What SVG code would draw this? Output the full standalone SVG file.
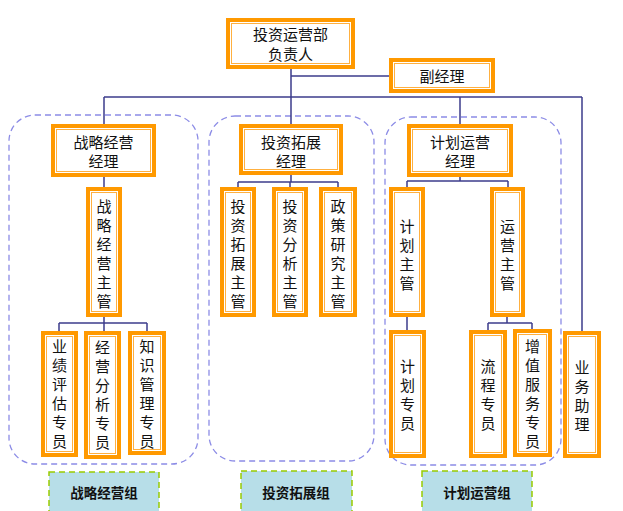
<svg xmlns="http://www.w3.org/2000/svg" width="623" height="511" viewBox="0 0 623 511">
<style>
.o{fill:#fff;stroke:#FF9900;stroke-width:4}
.i{fill:none;stroke:#FFB040;stroke-width:1}
.t{font-family:"Noto Sans CJK SC","Noto Sans CJK JP",sans-serif;font-size:15px;fill:#111;text-anchor:middle;dominant-baseline:central}
.grp{fill:none;stroke:#8C8CE6;stroke-width:1.3;stroke-dasharray:6 4}
.lb{fill:#B7DEE8;stroke:#99CC00;stroke-width:1.5;stroke-dasharray:6 4}
.lt{font-family:"Noto Sans CJK SC","Noto Sans CJK JP",sans-serif;font-size:13.5px;font-weight:bold;fill:#111;text-anchor:middle;dominant-baseline:central}
.c{fill:none;stroke:#3C3C8C;stroke-width:1.5}
</style>
<rect width="623" height="511" fill="#fff"/>
<g id="groups">
<rect class="grp" x="9" y="115" width="189" height="349" rx="26"/>
<rect class="grp" x="209" y="116" width="165" height="345" rx="26"/>
<rect class="grp" x="385" y="117" width="176" height="348" rx="26"/>
</g>
<g id="connectors">
<path class="c" d="M291 69V97M291 76H389M104 97H582M104 97V124M291 97V124M460 97V124M582 97V331"/>
<path class="c" d="M104 177V187M104 317V323M59 323H147M59 323V331M104 323V331M147 323V331"/>
<path class="c" d="M291 174V182M238 182H338M238 182V187M290 182V187M338 182V187"/>
<path class="c" d="M460 177V181M407 181H508M407 181V187M508 181V187M407 317V330M507 317V323M488 323H532M488 323V330M532 323V330"/>
</g>
<g id="n_head">
<rect class="o" x="228" y="20" width="125" height="47"/><rect class="i" x="231.5" y="23.5" width="118" height="40"/>
<text class="t" x="290.5" y="33">投资运营部</text><text class="t" x="290.5" y="53">负责人</text>
</g>
<g id="n_vice">
<rect class="o" x="391" y="60" width="102" height="31"/><rect class="i" x="394.5" y="63.5" width="95" height="24"/>
<text class="t" x="442" y="75.5">副经理</text>
</g>
<g id="n_m1">
<rect class="o" x="53" y="126" width="101" height="49"/><rect class="i" x="56.5" y="129.5" width="94" height="42"/>
<text class="t" x="103.5" y="141">战略经营</text><text class="t" x="103.5" y="160">经理</text>
</g>
<g id="n_m2">
<rect class="o" x="241" y="126" width="100" height="47"/><rect class="i" x="244.5" y="129.5" width="93" height="40"/>
<text class="t" x="291" y="141">投资拓展</text><text class="t" x="291" y="160">经理</text>
</g>
<g id="n_m3">
<rect class="o" x="409" y="126" width="102" height="49"/><rect class="i" x="412.5" y="129.5" width="95" height="42"/>
<text class="t" x="460" y="141">计划运营</text><text class="t" x="460" y="160">经理</text>
</g>
<g id="n_zlzg">
<rect class="o" x="88" y="189" width="32" height="126"/><rect class="i" x="91.5" y="192.5" width="25" height="119"/>
<text class="t"><tspan x="104" y="205">战</tspan><tspan x="104" y="224">略</tspan><tspan x="104" y="243">经</tspan><tspan x="104" y="262">营</tspan><tspan x="104" y="281">主</tspan><tspan x="104" y="300">管</tspan></text>
</g>
<g id="n_yjpg">
<rect class="o" x="43" y="333" width="33" height="122"/><rect class="i" x="46.5" y="336.5" width="26" height="115"/>
<text class="t"><tspan x="59.5" y="345">业</tspan><tspan x="59.5" y="364">绩</tspan><tspan x="59.5" y="383">评</tspan><tspan x="59.5" y="402">估</tspan><tspan x="59.5" y="421">专</tspan><tspan x="59.5" y="440">员</tspan></text>
</g>
<g id="n_jyfx">
<rect class="o" x="86" y="333" width="33" height="124"/><rect class="i" x="89.5" y="336.5" width="26" height="117"/>
<text class="t"><tspan x="102.5" y="346">经</tspan><tspan x="102.5" y="365">营</tspan><tspan x="102.5" y="384">分</tspan><tspan x="102.5" y="403">析</tspan><tspan x="102.5" y="422">专</tspan><tspan x="102.5" y="441">员</tspan></text>
</g>
<g id="n_zsgl">
<rect class="o" x="130" y="333" width="34" height="120"/><rect class="i" x="133.5" y="336.5" width="27" height="113"/>
<text class="t"><tspan x="147" y="345">知</tspan><tspan x="147" y="364">识</tspan><tspan x="147" y="383">管</tspan><tspan x="147" y="402">理</tspan><tspan x="147" y="421">专</tspan><tspan x="147" y="440">员</tspan></text>
</g>
<g id="n_tztz">
<rect class="o" x="222" y="189" width="32" height="126"/><rect class="i" x="225.5" y="192.5" width="25" height="119"/>
<text class="t"><tspan x="238" y="205">投</tspan><tspan x="238" y="224">资</tspan><tspan x="238" y="243">拓</tspan><tspan x="238" y="262">展</tspan><tspan x="238" y="281">主</tspan><tspan x="238" y="300">管</tspan></text>
</g>
<g id="n_tzfx">
<rect class="o" x="274" y="189" width="32" height="126"/><rect class="i" x="277.5" y="192.5" width="25" height="119"/>
<text class="t"><tspan x="290" y="205">投</tspan><tspan x="290" y="224">资</tspan><tspan x="290" y="243">分</tspan><tspan x="290" y="262">析</tspan><tspan x="290" y="281">主</tspan><tspan x="290" y="300">管</tspan></text>
</g>
<g id="n_zcyj">
<rect class="o" x="321" y="189" width="34" height="126"/><rect class="i" x="324.5" y="192.5" width="27" height="119"/>
<text class="t"><tspan x="338" y="205">政</tspan><tspan x="338" y="224">策</tspan><tspan x="338" y="243">研</tspan><tspan x="338" y="262">究</tspan><tspan x="338" y="281">主</tspan><tspan x="338" y="300">管</tspan></text>
</g>
<g id="n_jhzg">
<rect class="o" x="391" y="189" width="32" height="126"/><rect class="i" x="394.5" y="192.5" width="25" height="119"/>
<text class="t"><tspan x="407" y="224.5">计</tspan><tspan x="407" y="243.5">划</tspan><tspan x="407" y="262.5">主</tspan><tspan x="407" y="281.5">管</tspan></text>
</g>
<g id="n_yyzg">
<rect class="o" x="492" y="189" width="31" height="126"/><rect class="i" x="495.5" y="192.5" width="24" height="119"/>
<text class="t"><tspan x="507.5" y="224.5">运</tspan><tspan x="507.5" y="243.5">营</tspan><tspan x="507.5" y="262.5">主</tspan><tspan x="507.5" y="281.5">管</tspan></text>
</g>
<g id="n_jhzy">
<rect class="o" x="391" y="332" width="33" height="124"/><rect class="i" x="394.5" y="335.5" width="26" height="117"/>
<text class="t"><tspan x="407.5" y="365">计</tspan><tspan x="407.5" y="384">划</tspan><tspan x="407.5" y="403">专</tspan><tspan x="407.5" y="422">员</tspan></text>
</g>
<g id="n_lczy">
<rect class="o" x="471" y="332" width="34" height="124"/><rect class="i" x="474.5" y="335.5" width="27" height="117"/>
<text class="t"><tspan x="488" y="365">流</tspan><tspan x="488" y="384">程</tspan><tspan x="488" y="403">专</tspan><tspan x="488" y="422">员</tspan></text>
</g>
<g id="n_zzfw">
<rect class="o" x="515" y="331" width="35" height="124"/><rect class="i" x="518.5" y="334.5" width="28" height="117"/>
<text class="t"><tspan x="532.5" y="345">增</tspan><tspan x="532.5" y="364">值</tspan><tspan x="532.5" y="383">服</tspan><tspan x="532.5" y="402">务</tspan><tspan x="532.5" y="421">专</tspan><tspan x="532.5" y="440">员</tspan></text>
</g>
<g id="n_ywzl">
<rect class="o" x="565" y="333" width="34" height="123"/><rect class="i" x="568.5" y="336.5" width="27" height="116"/>
<text class="t"><tspan x="582" y="366">业</tspan><tspan x="582" y="385">务</tspan><tspan x="582" y="404">助</tspan><tspan x="582" y="423">理</tspan></text>
</g>
<g id="label_1">
<rect class="lb" x="49" y="472" width="110" height="42"/>
<text class="lt" x="104" y="492">战略经营组</text>
</g>
<g id="label_2">
<rect class="lb" x="241" y="471" width="111" height="43"/>
<text class="lt" x="296" y="492">投资拓展组</text>
</g>
<g id="label_3">
<rect class="lb" x="422" y="471" width="110" height="43"/>
<text class="lt" x="477" y="492">计划运营组</text>
</g>
</svg>
